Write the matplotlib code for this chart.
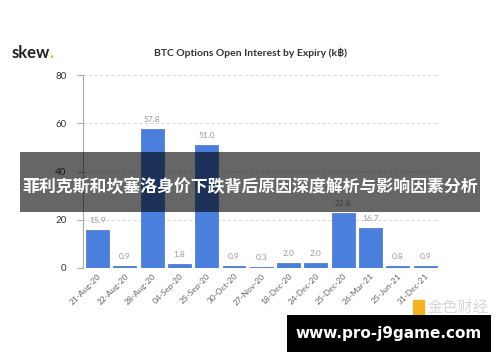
import matplotlib
matplotlib.use("Agg")
import matplotlib.pyplot as plt
from matplotlib.patches import Rectangle

categories = ["21-Aug-20", "22-Aug-20", "28-Aug-20", "04-Sep-20", "25-Sep-20", "30-Oct-20",
              "27-Nov-20", "18-Dec-20", "24-Dec-20", "25-Dec-20", "26-Mar-21", "25-Jun-21", "31-Dec-21"]
values = [15.9, 0.9, 57.8, 1.8, 51.0, 0.9, 0.3, 2.0, 2.0, 22.8, 16.7, 0.8, 0.9]
yticks = [0, 20, 40, 60, 80]

plt.rcParams['font.family'] = ['Lato', 'Noto Sans CJK SC', 'DejaVu Sans']

fig = plt.figure(figsize=(5, 3.62), dpi=100)
ax = fig.add_axes([0.166, 0.2597, 0.71, 0.533])

x = list(range(len(values)))
ax.bar(x, values, width=0.84, color="#4a7fde", edgecolor="#3f72cc", linewidth=0.5, zorder=3)
for xi, v in zip(x, values):
    ax.text(xi, v + 2.5, f"{v:.1f}", ha="center", va="bottom", fontsize=6, color="#9a9a9a", zorder=4)

ax.set_xlim(-0.53, 12.47)
ax.set_ylim(0, 80)
ax.set_yticks(yticks)
ax.set_yticklabels([str(t) for t in yticks], fontsize=7, color="#333333")
ax.set_xticks(x)
ax.set_xticklabels(categories, rotation=45, ha="right", rotation_mode="anchor", fontsize=6, color="#666666")
ax.tick_params(axis="x", length=0, pad=3)
ax.tick_params(axis="y", length=4, color="#aaaaaa", pad=8)
for t in yticks[1:]:
    ax.axhline(t, color="#dddddd", linestyle=(0, (3, 2)), linewidth=0.8, zorder=1)
ax.axhline(0, color="#bbbbbb", linewidth=0.8, zorder=2)
for s in ["top", "right", "bottom"]:
    ax.spines[s].set_visible(False)
ax.spines["left"].set_color("#aaaaaa")
ax.spines["left"].set_linewidth(0.8)

fig.text(0.5, 0.853, "BTC Options Open Interest by Expiry (k\u0e3f)", ha="center", va="center",
         fontsize=7.5, color="#333333", fontweight="bold")
fig.text(0.024, 0.853, "skew", ha="left", va="center", fontsize=12, fontweight="bold", color="#222222")
fig.text(0.098, 0.853, ".", ha="left", va="center", fontsize=12, fontweight="bold", color="#f0b400")

# watermark
fig.patches.append(Rectangle((0.826, 0.13), 0.022, 0.04, transform=fig.transFigure, color="#f5b324", zorder=5))
fig.text(0.855, 0.150, "金色财经", ha="left", va="center", fontsize=11, color="#d8d8d8", zorder=5)

# banner
fig.patches.append(Rectangle((0.04, 1 - 212/362), 0.92, 60/362, transform=fig.transFigure,
                             facecolor="black", alpha=0.6, zorder=10))
fig.text(0.5, 1 - 186/362, "菲利克斯和坎塞洛身价下跌背后原因深度解析与影响因素分析", ha="center", va="center",
         fontsize=12.2, fontweight="bold", color="white", zorder=11)

# bottom box
fig.patches.append(Rectangle((287/500, 1 - 352/362), 204/500, 37/362, transform=fig.transFigure,
                             facecolor="black", zorder=10))
fig.text(389/500, 1 - 333.5/362, "www.pro-j9game.com", ha="center", va="center",
         fontsize=11, fontweight="bold", color="white", family=["DejaVu Sans"], zorder=11)

fig.savefig("out.png", dpi=100)
